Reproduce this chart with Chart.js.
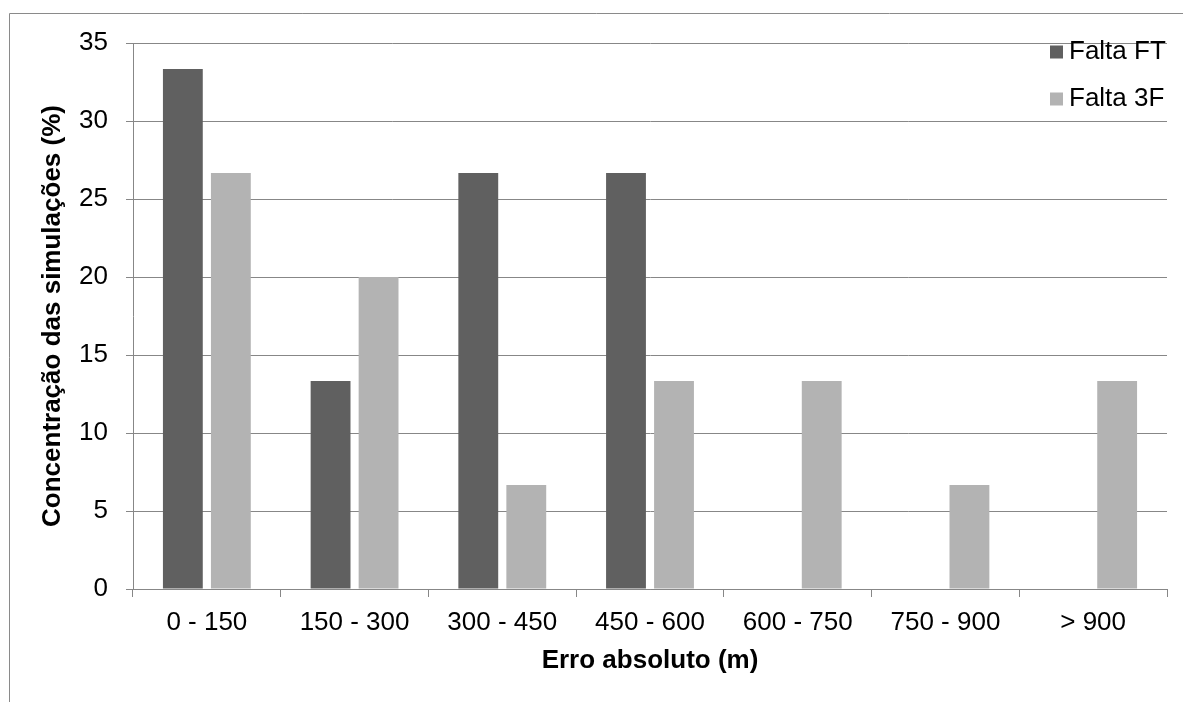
<!DOCTYPE html>
<html>
<head>
<meta charset="utf-8">
<script src="https://cdn.jsdelivr.net/npm/chart.js@4.4.1/dist/chart.umd.min.js"></script>
<style>
  html, body { margin: 0; padding: 0; background: #fff; overflow: hidden; }
  canvas { display: block; }
</style>
</head>
<body>
<canvas id="chart" width="1183" height="702"></canvas>
<script>
// Distribution of absolute location error per fault type
const categories = ['0 - 150', '150 - 300', '300 - 450', '450 - 600', '600 - 750', '750 - 900', '> 900'];
const faltaFT = [33.33, 13.33, 26.67, 26.67, 0, 0, 0];
const falta3F = [26.67, 20, 6.67, 13.33, 13.33, 6.67, 13.33];
const seriesNames = ['Falta FT', 'Falta 3F'];
const seriesColors = ['#606060', '#b3b3b3'];
const yTicks = { min: 0, max: 35, step: 5 };

const axisGray = '#878787';
const FONT = "'Liberation Sans', Arial, sans-serif";

// white background plus the outer frame of the chart object
const framePlugin = {
  id: 'frame',
  beforeDraw(chart) {
    const ctx = chart.ctx;
    ctx.save();
    ctx.fillStyle = '#ffffff';
    ctx.fillRect(0, 0, chart.width, chart.height);
    ctx.strokeStyle = '#8a8a8a';
    ctx.lineWidth = 1;
    ctx.beginPath();
    ctx.moveTo(9.5, chart.height);
    ctx.lineTo(9.5, 13.5);
    ctx.lineTo(chart.width, 13.5);
    ctx.stroke();
    ctx.restore();
  }
};

// legend in the upper right corner, stacked vertically
const legendPlugin = {
  id: 'cornerLegend',
  afterDraw(chart) {
    const ctx = chart.ctx;
    ctx.save();
    ctx.font = '26px ' + FONT;
    ctx.textBaseline = 'middle';
    ctx.textAlign = 'left';
    const rows = [52, 99];
    chart.data.datasets.forEach((ds, i) => {
      const cy = rows[i];
      ctx.fillStyle = ds.backgroundColor;
      ctx.fillRect(1050, cy - 6.5, 13, 13);
      ctx.fillStyle = '#000000';
      ctx.fillText(ds.label, 1069, cy);
    });
    ctx.restore();
  }
};

new Chart(document.getElementById('chart'), {
  type: 'bar',
  data: {
    labels: categories,
    datasets: [
      { label: seriesNames[0], data: faltaFT, backgroundColor: seriesColors[0] },
      { label: seriesNames[1], data: falta3F, backgroundColor: seriesColors[1] }
    ]
  },
  plugins: [framePlugin, legendPlugin],
  options: {
    responsive: false,
    animation: false,
    devicePixelRatio: 1,
    barPercentage: 0.83,
    categoryPercentage: 0.65,
    layout: { padding: { top: 43, right: 16, left: 0, bottom: 0 } },
    plugins: { legend: { display: false }, tooltip: { enabled: false } },
    scales: {
      x: {
        type: 'category',
        offset: true,
        grid: { offset: true, drawOnChartArea: false, drawTicks: true, tickLength: 8, color: axisGray, lineWidth: 1 },
        border: { color: axisGray, width: 1 },
        ticks: { color: '#000', font: { family: FONT, size: 26 }, padding: 10, maxRotation: 0, autoSkip: false },
        title: { display: true, text: 'Erro absoluto (m)', color: '#000', font: { family: FONT, size: 26, weight: 'bold' }, padding: { top: 0, bottom: 26 } },
        afterFit(scale) { scale.height = 113; }
      },
      y: {
        min: yTicks.min,
        max: yTicks.max,
        grid: { color: axisGray, lineWidth: 1, tickLength: 7, drawTicks: true },
        border: { color: axisGray, width: 1 },
        ticks: { stepSize: yTicks.step, color: '#000', font: { family: FONT, size: 26 }, padding: 18 },
        title: { display: true, text: 'Concentração das simulações (%)', color: '#000', font: { family: FONT, size: 26, weight: 'bold' }, padding: { top: 37, bottom: 0 } },
        afterFit(scale) { scale.width = 133; }
      }
    }
  }
});
</script>
</body>
</html>
